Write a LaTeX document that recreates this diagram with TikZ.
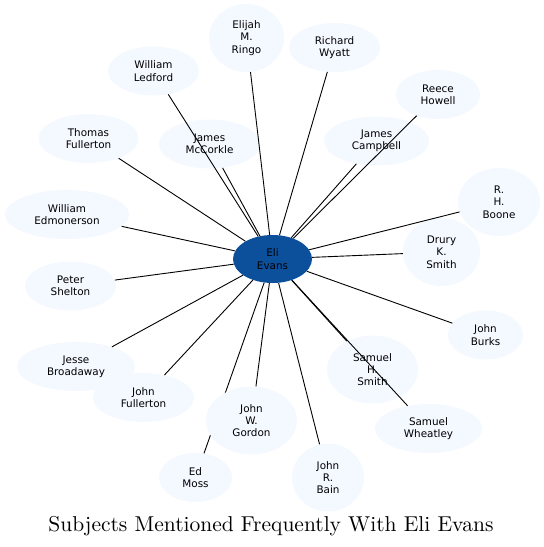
\documentclass[tikz,border=0pt]{standalone}
\usepackage{fontspec}
\newfontfamily\nodefont{DejaVu Sans}
\newfontfamily\titlefont{lmroman10-regular}[Extension=.otf]
\usetikzlibrary{shapes.geometric}
\definecolor{subjfill}{RGB}{244,248,255}
\definecolor{focusfill}{RGB}{12,80,156}
\pgfdeclarelayer{back}
\pgfsetlayers{back,main}
\tikzset{
  subject/.style={
    ellipse,
    fill=subjfill,
    inner sep=0pt,
    minimum height=49pt,
    align=center,
    font=\nodefont\fontsize{10.4}{12.3}\selectfont,
  },
  tall/.style={minimum height=68pt},
  focus/.style={
    subject,
    fill=focusfill,
    minimum width=79pt,
    minimum height=48pt,
  },
  link/.style={line width=0.9pt},
}

\begin{document}
\begin{tikzpicture}[x=1pt,y=-1pt]
  \useasboundingbox (0,0) rectangle (544,547);
  \node[focus] (eli) at (272.5,259) {Eli\\Evans};
  \node[subject,tall,minimum width=75pt] (ringo) at (246.5,38) {Elijah\\M.\\Ringo};
  \node[subject,minimum width=91pt] (wyatt) at (334.5,47.5) {Richard\\Wyatt};
  \node[subject,minimum width=91pt] (ledford) at (153.5,71) {William\\Ledford};
  \node[subject,minimum width=84pt] (howell) at (438,94.5) {Reece\\Howell};
  \node[subject,minimum width=101pt] (mccorkle) at (209.5,144) {James\\McCorkle};
  \node[subject,minimum width=105pt] (campbell) at (376.5,141) {James\\Campbell};
  \node[subject,minimum width=100pt] (tfullerton) at (88.5,138.5) {Thomas\\Fullerton};
  \node[subject,tall,minimum width=82pt] (boone) at (499,202) {R.\\H.\\Boone};
  \node[subject,minimum width=124pt] (edmonerson) at (67,214.5) {William\\Edmonerson};
  \node[subject,tall,minimum width=77pt] (drury) at (441.5,252) {Drury\\K.\\Smith};
  \node[subject,minimum width=91pt] (shelton) at (70.5,286) {Peter\\Shelton};
  \node[subject,minimum width=75pt] (burks) at (485.5,335) {John\\Burks};
  \node[subject,minimum width=118pt] (broadaway) at (76,366.5) {Jesse\\Broadaway};
  \node[subject,minimum width=101pt] (jfullerton) at (143.5,397.5) {John\\Fullerton};
  \node[subject,tall,minimum width=91pt] (hsmith) at (372.5,369.5) {Samuel\\H.\\Smith};
  \node[subject,minimum width=107pt] (wheatley) at (428.5,428.5) {Samuel\\Wheatley};
  \node[subject,tall,minimum width=91pt] (gordon) at (251.5,420.5) {John\\W.\\Gordon};
  \node[subject,minimum width=73pt] (moss) at (195.5,477.5) {Ed\\Moss};
  \node[subject,tall,minimum width=72pt] (bain) at (328,477.5) {John\\R.\\Bain};
  \draw[link] (eli) -- (ringo);
  \draw[link] (eli) -- (wyatt);
  \draw[link] (eli) -- (ledford);
  \draw[link] (eli) -- (howell);
  \draw[link] (eli) -- (mccorkle);
  \draw[link] (eli) -- (campbell);
  \draw[link] (eli) -- (tfullerton);
  \draw[link] (eli) -- (boone);
  \draw[link] (eli) -- (edmonerson);
  \draw[link] (eli) -- (drury);
  \draw[link] (eli) -- (shelton);
  \draw[link] (eli) -- (burks);
  \draw[link] (eli) -- (broadaway);
  \draw[link] (eli) -- (jfullerton);
  \draw[link] (eli) -- (hsmith);
  \draw[link] (eli) -- (wheatley);
  \draw[link] (eli) -- (gordon);
  \draw[link] (eli) -- (bain);
  \begin{pgfonlayer}{back}
    \draw[link] (eli) -- (moss);
  \end{pgfonlayer}
  \node[anchor=base,font=\titlefont\fontsize{21.5}{25}\selectfont] (title) at (271,531) {Subjects Mentioned Frequently With Eli Evans};
\end{tikzpicture}
\end{document}
